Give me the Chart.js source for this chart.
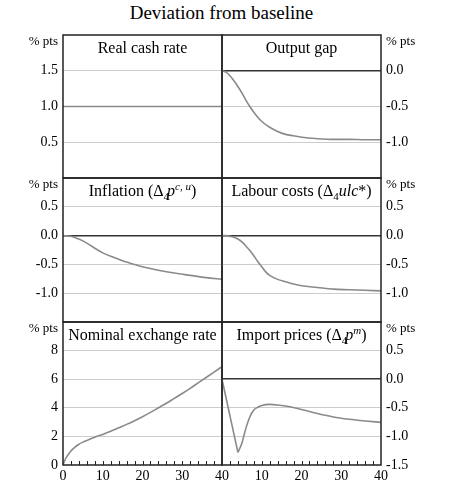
<!DOCTYPE html>
<html><head><meta charset="utf-8">
<script src="https://cdn.jsdelivr.net/npm/chart.js@4"></script>
<style>
html,body{margin:0;padding:0;background:#fff}
body{width:457px;height:495px;overflow:hidden;position:relative;font-family:"Liberation Serif",serif}
#title{position:absolute;left:0;top:0;width:443px;text-align:center;font-size:19px;line-height:25px;color:#000}
canvas{position:absolute;left:0;top:0}
</style></head><body>
<div id="title">Deviation from baseline</div>
<canvas id="c0" width="457" height="495"></canvas>
<canvas id="c1" width="457" height="495"></canvas>
<canvas id="c2" width="457" height="495"></canvas>
<canvas id="c3" width="457" height="495"></canvas>
<canvas id="c4" width="457" height="495"></canvas>
<canvas id="c5" width="457" height="495"></canvas>
<script>
// ---------- data ----------
const cashX = [0, 40];
const cashY = [1.0, 1.0];

const gapX = [0,1,2,3,4,5,6,7,8,9,10,12,14,16,18,20,24,28,32,36,40];
const gapY = [0,-0.02,-0.07,-0.14,-0.22,-0.31,-0.41,-0.5,-0.58,-0.65,-0.71,-0.79,-0.85,-0.89,-0.91,-0.93,-0.95,-0.96,-0.96,-0.965,-0.965];

const inflX = [0,2,4,6,8,10,12,14,16,18,20,24,28,32,36,40];
const inflY = [0,-0.01,-0.06,-0.13,-0.22,-0.3,-0.36,-0.41,-0.46,-0.5,-0.54,-0.6,-0.65,-0.69,-0.73,-0.76];

const labX = [0,1,2,3,4,5,6,7,8,9,10,11,12,14,16,18,20,24,28,32,36,40];
const labY = [0,0,-0.01,-0.03,-0.06,-0.11,-0.18,-0.26,-0.35,-0.45,-0.54,-0.63,-0.69,-0.76,-0.8,-0.84,-0.87,-0.9,-0.93,-0.94,-0.95,-0.96];

const fxX = [0,0.5,1,2,3,4,5,6,8,10,12,14,16,18,20,22,24,26,28,30,32,34,36,38,40];
const fxY = [0,0.35,0.6,0.98,1.25,1.45,1.6,1.72,1.94,2.14,2.36,2.6,2.84,3.1,3.38,3.68,4.0,4.32,4.66,5.0,5.36,5.74,6.12,6.5,6.88];

const impX = [0,4,5,5.5,6,7,8,9,10,12,14,16,20,24,28,32,36,40];
const impY = [0,-1.28,-1.12,-0.99,-0.86,-0.66,-0.54,-0.49,-0.46,-0.44,-0.45,-0.47,-0.53,-0.6,-0.66,-0.7,-0.73,-0.755];
const impTroughIndex = 1;

// tick labels
const cashTicks = [0.5, 1.0, 1.5];
const gapTicks = [0.0, -0.5, -1.0];
const inflTicks = [0.5, 0.0, -0.5, -1.0];
const labTicks = [0.5, 0.0, -0.5, -1.0];
const fxTicks = [0, 2, 4, 6, 8];
const impTicks = [0.5, 0.0, -0.5, -1.0, -1.5];
const xTickLabelsLeft = [0, 10, 20, 30, 40];
const xTickLabelsRight = [10, 20, 30, 40];
const unitLabel = '% pts';

// ---------- styling ----------
const FONT = '"Liberation Serif", "Times New Roman", serif';
Chart.defaults.font.family = FONT;
Chart.defaults.color = '#000';
const LINE = '#8a8a8a';
const GRID = '#cccccc';
const ZERO = '#333333';
const BOX = '#222222';

const pts = (xa, ya) => xa.map((x, i) => ({x, y: ya[i]}));

function fontFor(s){ return (s.i ? 'italic ' : '') + (s.size || 16) + 'px ' + FONT; }
function drawRich(ctx, segs, cx, by){
  let total = 0;
  segs.forEach(s => { ctx.font = fontFor(s); s._w = ctx.measureText(s.t).width; total += s._w + (s.dx || 0); });
  let x = cx - total / 2;
  ctx.textAlign = 'left'; ctx.textBaseline = 'alphabetic'; ctx.fillStyle = '#000';
  segs.forEach(s => { ctx.font = fontFor(s); x += (s.dx || 0); ctx.fillText(s.t, x, by + (s.dy || 0)); x += s._w; });
}

const panelPlugin = {
  id: 'panel',
  afterDraw(chart, args, o){
    const ctx = chart.ctx, a = chart.chartArea;
    ctx.save();
    // minor ticks
    if (o.minor){
      const xs = chart.scales.x;
      ctx.strokeStyle = BOX; ctx.lineWidth = 1;
      ctx.beginPath();
      for (let t = 2; t < 40; t += 2){
        const px = Math.round(xs.getPixelForValue(t)) + 0.5;
        ctx.moveTo(px, a.bottom); ctx.lineTo(px, a.bottom - 4);
      }
      ctx.stroke();
    }
    // box
    ctx.strokeStyle = BOX; ctx.lineWidth = 1.5;
    ctx.strokeRect(a.left, a.top, a.right - a.left, a.bottom - a.top);
    // unit label
    ctx.font = '13px ' + FONT; ctx.fillStyle = '#000'; ctx.textBaseline = 'middle';
    if (o.side === 'left'){ ctx.textAlign = 'right'; ctx.fillText(unitLabel, a.left - 5, a.top + 7); }
    else { ctx.textAlign = 'left'; ctx.fillText(unitLabel, a.right + 5, a.top + 7); }
    // title
    drawRich(ctx, o.title, (a.left + a.right) / 2, a.top + 18);
    ctx.restore();
  }
};
Chart.register(panelPlugin);

function makeChart(id, p){
  const left = p.side === 'left';
  const near = (v, list) => list.some(t => Math.abs(t - v) < 1e-6);
  const xDisplay = !!p.xLabels;
  new Chart(document.getElementById(id), {
    type: 'line',
    data: { datasets: p.datasets.map(d => ({
      data: d.data, borderColor: LINE, borderWidth: 1.6, pointRadius: 0,
      fill: false, tension: d.linear ? 0 : 0.4,
      cubicInterpolationMode: d.linear ? 'default' : 'monotone'
    })) },
    options: {
      responsive: false, animation: false, events: [],
      layout: { padding: {
        left: left ? 0 : 222,
        right: left ? 235 : 0,
        top: p.top,
        bottom: xDisplay ? 0 : 495 - p.bottom
      } },
      plugins: { legend: {display: false}, tooltip: {enabled: false}, title: {display: false},
        panel: { title: p.title, side: p.side, minor: xDisplay } },
      scales: {
        x: {
          type: 'linear', min: 0, max: 40, display: xDisplay,
          grid: { display: false, drawTicks: false },
          border: { display: false },
          ticks: { display: xDisplay, stepSize: 10, padding: 3, maxRotation: 0, autoSkip: false,
            font: { size: 14 }, color: '#000',
            callback: v => (p.xLabels && near(v, p.xLabels)) ? String(v) : '' },
          afterFit: s => { s.height = xDisplay ? 30 : 0; }
        },
        y: {
          type: 'linear', position: p.side, min: p.min, max: p.max,
          border: { display: false },
          grid: { drawTicks: false, tickLength: 0,
            color: c => {
              const v = c.tick ? c.tick.value : null;
              if (v === null || Math.abs(v - p.min) < 1e-6 || Math.abs(v - p.max) < 1e-6) return 'rgba(0,0,0,0)';
              return Math.abs(v) < 1e-6 ? ZERO : GRID;
            },
            lineWidth: c => (c.tick && Math.abs(c.tick.value) < 1e-6) ? 1.5 : 1
          },
          ticks: { stepSize: p.step, padding: 5, autoSkip: false, font: { size: 14 }, color: '#000',
            callback: v => near(v, p.labels) ? Number(v).toFixed(p.dec) : '' },
          afterFit: s => { s.width = left ? 63 : 76; }
        }
      }
    }
  });
}

const rows = [[35, 178], [178, 322], [322, 465]];

makeChart('c0', { side: 'left', top: rows[0][0], bottom: rows[0][1], min: 0, max: 2, step: 0.5, dec: 1,
  labels: cashTicks, title: [{t: 'Real cash rate'}], datasets: [{data: pts(cashX, cashY), linear: true}] });
makeChart('c1', { side: 'right', top: rows[0][0], bottom: rows[0][1], min: -1.5, max: 0.5, step: 0.5, dec: 1,
  labels: gapTicks, title: [{t: 'Output gap'}], datasets: [{data: pts(gapX, gapY)}] });
makeChart('c2', { side: 'left', top: rows[1][0], bottom: rows[1][1], min: -1.5, max: 1.0, step: 0.5, dec: 1,
  labels: inflTicks,
  title: [{t: 'Inflation ('}, {t: 'Δ'}, {t: '4', size: 11, dy: 4}, {t: 'p', i: 1, dx: -2}, {t: 'c, u', i: 1, size: 11, dy: -6}, {t: ')'}],
  datasets: [{data: pts(inflX, inflY)}] });
makeChart('c3', { side: 'right', top: rows[1][0], bottom: rows[1][1], min: -1.5, max: 1.0, step: 0.5, dec: 1,
  labels: labTicks,
  title: [{t: 'Labour costs ('}, {t: 'Δ'}, {t: '4', size: 11, dy: 4}, {t: 'ulc', i: 1}, {t: '*'}, {t: ')'}],
  datasets: [{data: pts(labX, labY)}] });
makeChart('c4', { side: 'left', top: rows[2][0], bottom: rows[2][1], min: 0, max: 10, step: 2, dec: 0,
  labels: fxTicks, xLabels: xTickLabelsLeft, title: [{t: 'Nominal exchange rate'}],
  datasets: [{data: pts(fxX, fxY)}] });
makeChart('c5', { side: 'right', top: rows[2][0], bottom: rows[2][1], min: -1.5, max: 1.0, step: 0.5, dec: 1,
  labels: impTicks, xLabels: xTickLabelsRight,
  title: [{t: 'Import prices ('}, {t: 'Δ'}, {t: '4', size: 11, dy: 4}, {t: 'p', i: 1, dx: -2}, {t: 'm', i: 1, size: 11, dy: -6}, {t: ')'}],
  datasets: [
    {data: pts(impX.slice(0, impTroughIndex + 1), impY.slice(0, impTroughIndex + 1)), linear: true},
    {data: pts(impX.slice(impTroughIndex), impY.slice(impTroughIndex))}
  ] });
</script>
</body></html>
